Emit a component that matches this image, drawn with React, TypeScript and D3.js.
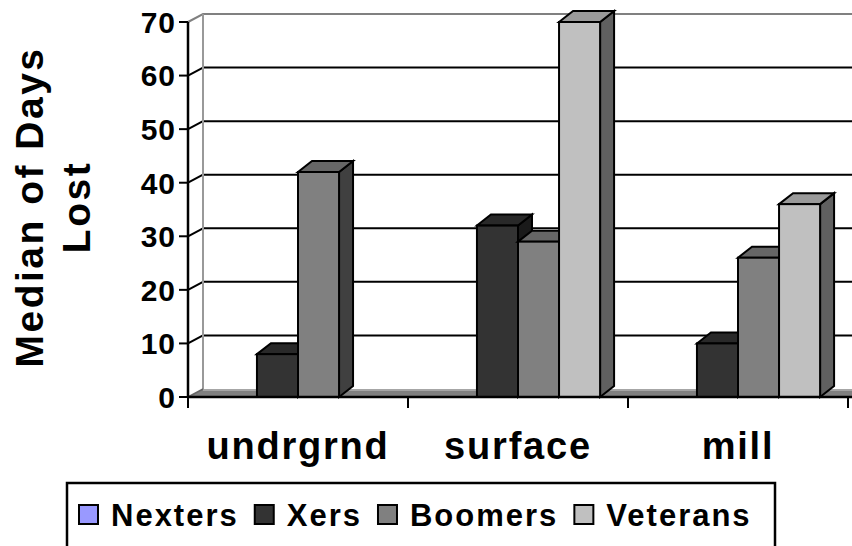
import * as d3 from "d3";
import { useEffect, useRef } from "react";

const categories = ["undrgrnd", "surface", "mill"];
const seriesNames = ["Nexters", "Xers", "Boomers", "Veterans"];
const seriesColors = ["#9999FF", "#333333", "#808080", "#C0C0C0"];
// one array per series, in category order
const nexters = [0, 0, 0];
const xers = [8, 32, 10];
const boomers = [42, 29, 26];
const veterans = [0, 70, 36];
const yTicks = [0, 10, 20, 30, 40, 50, 60, 70];

const FONT = "'Liberation Sans', Arial, sans-serif";

export default function App() {
  const ref = useRef<SVGSVGElement>(null);
  const width = 852;
  const height = 546;

  useEffect(() => {
    if (!ref.current) return;
    const svg = d3.select(ref.current);
    svg.selectAll("*").remove();

    const x0 = 188;
    const x1 = 848;
    const yBase = 397;
    const yTop = 22;
    // depth of the walls / floor
    const wdx = 15;
    const wdy = -8;
    // depth of the columns
    const bdx = 14;
    const bdy = -11;

    const values = [nexters, xers, boomers, veterans];

    const xCat = d3.scaleBand<string>().domain(categories).range([x0, x1]);
    const xSer = d3
      .scaleBand<string>()
      .domain(seriesNames)
      .range([0, xCat.bandwidth()])
      .paddingOuter(0.68);
    const y = d3.scaleLinear().domain([0, 70]).range([yBase, yTop]);

    svg.append("rect").attr("width", width).attr("height", height).attr("fill", "#fff");

    // floor
    svg
      .append("path")
      .attr("d", `M${x0},${yBase} L${x0 + wdx},${yBase + wdy} L${width + 20},${yBase + wdy} L${width + 20},${yBase} Z`)
      .attr("fill", "#808080")
      .attr("stroke", "none");
    svg
      .append("line")
      .attr("x1", x0 + wdx)
      .attr("x2", width)
      .attr("y1", yBase + wdy + 1)
      .attr("y2", yBase + wdy + 1)
      .attr("stroke", "#a6a6a6")
      .attr("stroke-width", 2);

    // back wall gridlines + side wall diagonals
    const grid = svg.append("g");
    yTicks
      .filter((t) => t > 0 && t < 70)
      .forEach((t) => {
        grid
          .append("line")
          .attr("x1", x0 + wdx)
          .attr("x2", width)
          .attr("y1", y(t) + wdy)
          .attr("y2", y(t) + wdy)
          .attr("stroke", "#000")
          .attr("stroke-width", 2);
        grid
          .append("line")
          .attr("x1", x0)
          .attr("x2", x0 + wdx)
          .attr("y1", y(t))
          .attr("y2", y(t) + wdy)
          .attr("stroke", "#000")
          .attr("stroke-width", 2);
      });

    // wall edges (grey)
    svg
      .append("path")
      .attr("d", `M${x0},${y(70)} L${x0 + wdx},${y(70) + wdy} L${width},${y(70) + wdy}`)
      .attr("fill", "none")
      .attr("stroke", "#808080")
      .attr("stroke-width", 2);
    svg
      .append("line")
      .attr("x1", x0 + wdx)
      .attr("x2", x0 + wdx)
      .attr("y1", y(70) + wdy)
      .attr("y2", yBase + wdy)
      .attr("stroke", "#999")
      .attr("stroke-width", 2);
    svg
      .append("line")
      .attr("x1", x0)
      .attr("x2", x0 + wdx)
      .attr("y1", yBase)
      .attr("y2", yBase + wdy)
      .attr("stroke", "#666")
      .attr("stroke-width", 1.5);

    // columns
    const shade = (c: string, k: number) => {
      const col = d3.rgb(c);
      return d3.rgb(col.r * k, col.g * k, col.b * k).formatHex();
    };
    const bars = svg.append("g").attr("stroke", "#000").attr("stroke-width", 2).attr("stroke-linejoin", "miter");
    categories.forEach((cat, ci) => {
      seriesNames.forEach((s, si) => {
        const v = values[si][ci];
        if (v <= 0) return;
        const bx = (xCat(cat) ?? 0) + (xSer(s) ?? 0);
        const bw = xSer.bandwidth();
        const by = y(v);
        const col = seriesColors[si];
        // side
        bars
          .append("path")
          .attr("d", `M${bx + bw},${yBase} L${bx + bw + bdx},${yBase + bdy} L${bx + bw + bdx},${by + bdy} L${bx + bw},${by} Z`)
          .attr("fill", shade(col, 0.5));
        // top
        bars
          .append("path")
          .attr("d", `M${bx},${by} L${bx + bdx},${by + bdy} L${bx + bw + bdx},${by + bdy} L${bx + bw},${by} Z`)
          .attr("fill", shade(col, 0.8));
        // front
        bars
          .append("rect")
          .attr("x", bx)
          .attr("y", by)
          .attr("width", bw)
          .attr("height", yBase - by)
          .attr("fill", col);
      });
    });

    // x axis
    const xAxis = svg.append("g");
    xAxis
      .append("line")
      .attr("x1", x0)
      .attr("x2", width)
      .attr("y1", yBase)
      .attr("y2", yBase)
      .attr("stroke", "#000")
      .attr("stroke-width", 2.5);
    [...categories.map((c) => xCat(c) ?? 0), x1].forEach((tx) => {
      xAxis
        .append("line")
        .attr("x1", tx)
        .attr("x2", tx)
        .attr("y1", yBase)
        .attr("y2", yBase + 11)
        .attr("stroke", "#000")
        .attr("stroke-width", 2);
    });
    xAxis
      .selectAll("text.cat")
      .data(categories)
      .enter()
      .append("text")
      .attr("class", "cat")
      .attr("x", (d) => (xCat(d) ?? 0) + xCat.bandwidth() / 2)
      .attr("y", 459)
      .attr("text-anchor", "middle")
      .attr("font-family", FONT)
      .attr("font-weight", "bold")
      .attr("font-size", 38)
      .attr("letter-spacing", 1.8)
      .text((d) => d);

    // y axis
    const yAxis = svg.append("g");
    yAxis
      .append("line")
      .attr("x1", x0)
      .attr("x2", x0)
      .attr("y1", yTop)
      .attr("y2", yBase)
      .attr("stroke", "#000")
      .attr("stroke-width", 2.5);
    yTicks.forEach((t) => {
      yAxis
        .append("line")
        .attr("x1", x0 - 9)
        .attr("x2", x0)
        .attr("y1", y(t))
        .attr("y2", y(t))
        .attr("stroke", "#000")
        .attr("stroke-width", 2);
      yAxis
        .append("text")
        .attr("x", x0 - 12)
        .attr("y", y(t))
        .attr("dy", "0.36em")
        .attr("text-anchor", "end")
        .attr("font-family", FONT)
        .attr("font-weight", "bold")
        .attr("font-size", 30)
        .attr("letter-spacing", 1)
        .text(t);
    });

    // y title
    const title = svg
      .append("text")
      .attr("transform", `translate(0, 207) rotate(-90)`)
      .attr("text-anchor", "middle")
      .attr("font-family", FONT)
      .attr("font-weight", "bold")
      .attr("font-size", 39)
      .attr("letter-spacing", 2.5);
    title.append("tspan").attr("x", 0).attr("y", 43).text("Median of Days");
    title.append("tspan").attr("x", 0).attr("y", 90).text("Lost");

    // legend
    const leg = svg.append("g");
    leg
      .append("rect")
      .attr("x", 67)
      .attr("y", 483)
      .attr("width", 708)
      .attr("height", 90)
      .attr("fill", "#fff")
      .attr("stroke", "#000")
      .attr("stroke-width", 2.5);
    let lx = 79;
    seriesNames.forEach((s, i) => {
      leg
        .append("rect")
        .attr("x", lx)
        .attr("y", 505)
        .attr("width", 19)
        .attr("height", 19)
        .attr("fill", seriesColors[i])
        .attr("stroke", "#000")
        .attr("stroke-width", 2);
      const t = leg
        .append("text")
        .attr("x", lx + 32)
        .attr("y", 526)
        .attr("font-family", FONT)
        .attr("font-weight", "bold")
        .attr("font-size", 31)
        .attr("letter-spacing", 2)
        .text(s);
      const w = (t.node() as SVGTextElement).getComputedTextLength();
      lx = lx + 32 + w + 16;
    });
  }, []);

  return (
    <svg
      ref={ref}
      width={width}
      height={height}
      style={{ position: "absolute", left: 0, top: 0, display: "block" }}
    />
  );
}
